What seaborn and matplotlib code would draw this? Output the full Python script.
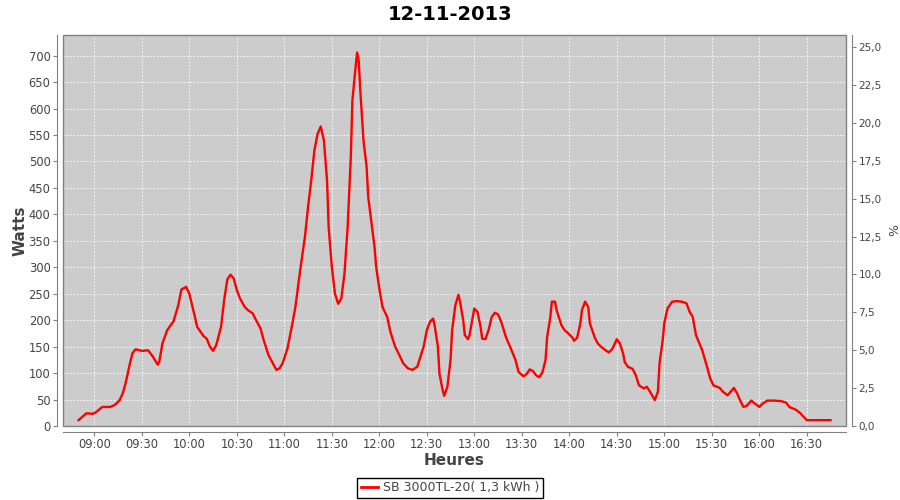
import pandas as pd
import matplotlib
matplotlib.use("Agg")
import matplotlib.pyplot as plt
import matplotlib.dates as mdates
from matplotlib.lines import Line2D
from matplotlib.patches import Rectangle
from matplotlib.ticker import MultipleLocator, FuncFormatter
import seaborn as sns

# Readings of the inverter for 12-11-2013 (time of day, watts)
heures = [
    "08:50", "08:55", "08:59", "09:01", "09:05", "09:10", "09:13", "09:16", "09:18", "09:20",
    "09:22", "09:24", "09:26", "09:30", "09:34", "09:37", "09:40", "09:41", "09:43", "09:46",
    "09:50", "09:53", "09:55", "09:58", "10:00", "10:03", "10:05", "10:09",
    "10:11", "10:13", "10:15", "10:17", "10:20", "10:22", "10:24", "10:26", "10:28", "10:30",
    "10:32", "10:35", "10:37", "10:40", "10:42", "10:45", "10:47", "10:50", "10:53", "10:55",
    "10:57", "10:59", "11:02", "11:05",
    "11:07", "11:10", "11:13", "11:15", "11:17", "11:19", "11:21", "11:23", "11:25", "11:27",
    "11:28", "11:30", "11:32", "11:34", "11:36", "11:38", "11:40", "11:42", "11:43", "11:45",
    "11:46", "11:47", "11:48", "11:50", "11:52", "11:53", "11:55", "11:57", "11:58", "12:00",
    "12:02", "12:05", "12:07", "12:10",
    "12:13", "12:15", "12:18", "12:21", "12:24", "12:26", "12:28", "12:30", "12:32", "12:34",
    "12:35", "12:37", "12:38", "12:40", "12:41", "12:43", "12:45", "12:46", "12:48", "12:50",
    "12:51", "12:53", "12:54", "12:56", "12:57", "12:59", "13:00", "13:02", "13:04", "13:05",
    "13:07", "13:09", "13:11", "13:13", "13:15", "13:17", "13:20", "13:23", "13:26", "13:28",
    "13:31", "13:33", "13:35", "13:37", "13:39", "13:41", "13:43", "13:45", "13:46", "13:48",
    "13:49", "13:51", "13:52", "13:55", "13:57", "13:59", "14:02", "14:03", "14:05", "14:07",
    "14:08", "14:10", "14:12", "14:13", "14:16", "14:18", "14:20", "14:23", "14:25", "14:27",
    "14:29", "14:30", "14:32", "14:34", "14:35", "14:37", "14:40", "14:42", "14:44", "14:47",
    "14:49", "14:51", "14:54", "14:56", "14:57", "14:59", "15:00", "15:02", "15:05", "15:08",
    "15:11", "15:14", "15:16",
    "15:18", "15:20", "15:24", "15:27", "15:29", "15:31", "15:35", "15:37", "15:40", "15:42",
    "15:44", "15:46", "15:48", "15:50", "15:52", "15:55", "15:57", "16:00", "16:02", "16:05",
    "16:09", "16:14", "16:17", "16:19", "16:23", "16:26", "16:30", "16:34", "16:40", "16:45",
]
watts = [
    11, 24, 23, 26, 36, 36, 40, 49, 62, 84,
    112, 137, 145, 142, 143, 131, 116, 121, 156, 181,
    198, 228, 258, 263, 250, 213, 187, 170,
    165, 150, 142, 153, 187, 238, 277, 286, 279, 257,
    241, 225, 219, 213, 201, 184, 162, 134, 117, 106,
    109, 119, 147, 192,
    225, 294, 357, 414, 464, 521, 552, 566, 540, 464,
    376, 301, 250, 231, 241, 288, 376, 508, 615, 678,
    706, 690, 634, 540, 489, 433, 385, 338, 301, 260,
    225, 206, 178, 150,
    132, 119, 109, 106, 112, 131, 150, 181, 197, 203,
    189, 150, 99, 68, 57, 74, 125, 181, 228, 248,
    235, 200, 172, 164, 172, 206, 222, 216, 187, 165,
    164, 181, 206, 214, 211, 197, 168, 147, 125, 102,
    94, 98, 107, 104, 96, 92, 101, 125, 168, 205,
    235, 235, 219, 191, 181, 176, 167, 161, 167, 194,
    219, 235, 225, 194, 168, 156, 150, 143, 139, 145,
    157, 164, 156, 137, 121, 112, 108, 96, 77, 71,
    74, 65, 49, 65, 118, 162, 194, 222, 235, 236,
    235, 232, 216,
    206, 172, 143, 112, 90, 77, 72, 65, 58, 65,
    72, 62, 48, 36, 38, 48, 43, 36, 42, 48,
    48, 47, 44, 36, 31, 24, 11, 11, 11, 11,
]
titre = "12-11-2013"
serie = "SB 3000TL-20( 1,3 kWh )"

jour = "2013-11-12 "
df = pd.DataFrame({"Heures": pd.to_datetime([jour + h for h in heures]), "Watts": watts})

gris = "#808080"
texte = "#444444"

fig = plt.figure(figsize=(9, 5), dpi=100)
ax = fig.add_axes([63 / 900, 74 / 500, 783 / 900, 391 / 500])
ax.set_facecolor("#cccccc")

sns.lineplot(data=df, x="Heures", y="Watts", ax=ax, color="red", linewidth=1.7, legend=False)

ax.set_xlim(pd.Timestamp(jour + "08:40:12"), pd.Timestamp(jour + "16:54:48"))
ax.set_ylim(0, 739)
ax.yaxis.set_major_locator(MultipleLocator(50))
ax.xaxis.set_major_locator(mdates.MinuteLocator(byminute=[0, 30]))
ax.xaxis.set_major_formatter(mdates.DateFormatter("%H:%M"))
ax.grid(True, color="white", linestyle=(0, (2, 2)), linewidth=0.6)
ax.set_axisbelow(True)

# plot outline plus axis lines set a little outside it
ax.add_patch(Rectangle((0, 0), 1, 1, transform=ax.transAxes, fill=False,
                       edgecolor=gris, linewidth=1, clip_on=False, zorder=5))
for s in ["top", "right"]:
    ax.spines[s].set_visible(False)
for s in ["left", "bottom"]:
    ax.spines[s].set_position(("outward", 4))
    ax.spines[s].set_color(gris)
ax.tick_params(direction="out", length=3, pad=2, color=gris, labelsize=8.3, labelcolor=texte)

ax.set_xlabel("Heures", fontsize=11, fontweight="bold", color=texte)
ax.set_ylabel("Watts", fontsize=11, fontweight="bold", color=texte)
ax.xaxis.set_label_coords(0.5, -0.07)
ax.yaxis.set_label_coords(-0.045, 0.5)

# right axis in percent
ax2 = ax.twinx()
ax2.set_ylim(0, 25.8)
ax2.yaxis.set_major_locator(MultipleLocator(2.5))
ax2.yaxis.set_major_formatter(FuncFormatter(lambda v, p: f"{v:.1f}".replace(".", ",")))
for s in ["top", "left", "bottom"]:
    ax2.spines[s].set_visible(False)
ax2.spines["right"].set_position(("outward", 4))
ax2.spines["right"].set_color(gris)
ax2.tick_params(direction="out", length=3, pad=2, color=gris, labelsize=7.5, labelcolor=texte)
ax2.set_ylabel("%", fontsize=9, color=texte)
ax2.yaxis.set_label_coords(1.054, 0.5)

fig.text(0.5, 1 - 14 / 500, titre, ha="center", va="center", fontsize=14, fontweight="bold")

leg = fig.legend(handles=[Line2D([], [], color="red", linewidth=2)], labels=[serie],
                 loc="center", bbox_to_anchor=(0.5, 1 - 488 / 500), frameon=True,
                 fancybox=False, framealpha=1, edgecolor="black", fontsize=9,
                 handlelength=1.4, handletextpad=0.4, borderpad=0.3)
leg.get_frame().set_linewidth(1.0)
for t in leg.get_texts():
    t.set_color(texte)

fig.savefig("out.png", dpi=100)
